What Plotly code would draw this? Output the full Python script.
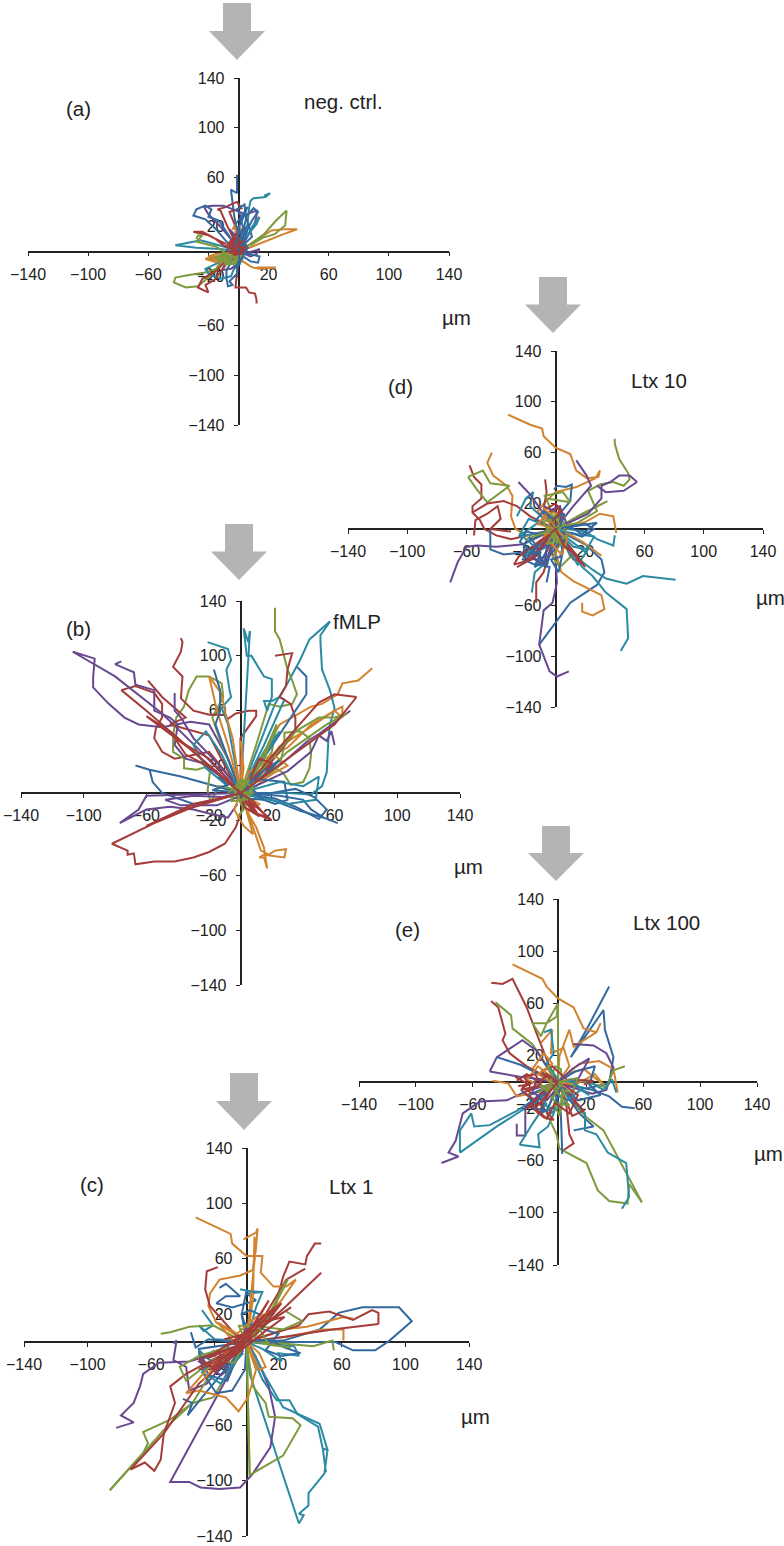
import plotly.graph_objects as go

W, H = 784, 1546
FONT = "Liberation Sans"
INK = "#222222"
TICK_VALUES = [-140, -100, -60, -20, 20, 60, 100, 140]
TICK_LABELS = ["\u2212140", "\u2212100", "\u221260", "\u221220", "20", "60", "100", "140"]
COLOURS = {"blue": "#33699f", "red": "#a53c3a", "green": "#7d9a3f",
           "purple": "#68498f", "teal": "#2b8ba3", "orange": "#d1832f"}

# ---- tracks in micrometres, panel (a) neg. ctrl.
A_BLUE = [
    [(0,0),(-1,15),(-3,30),(-5,47),(-5,50),(-1,47),(-1,55),(-1,62)],
    [(0,0),(-8,8),(-15,18),(-22,26),(-30,29),(-28,34),(-22,37),(-18,34),(-20,28),(-13,25),(-6,12),(0,0)],
    [(0,0),(4,8),(6,18),(9,25),(13,32),(10,35),(5,28),(7,20),(9,12),(3,5)],
    [(0,-2),(8,-2),(14,-4),(13,-9),(8,-8),(3,-4)],
    [(-3,-5),(-8,-15),(-8,-22),(-7,-28),(-4,-27),(-6,-24),(-1,-18),(0,-4)],
    [(0,0),(2,12),(-2,22),(3,30),(6,36),(2,24),(5,10),(1,2)],
    [(0,0),(3,6),(1,16),(5,20),(3,10),(6,3),(2,-6),(-3,-14),(1,-10),(0,0)],
    [(-2,4),(2,28),(-1,34),(4,38),(5,26),(1,8)],
]
A_RED = [
    [(0,0),(-4,12),(-8,22),(-12,33),(-14,34),(-8,36),(-5,38),(-1,40),(2,35),(-6,32),(-2,20),(0,4)],
    [(0,0),(-10,5),(-15,10),(-24,16),(-30,16),(-20,13),(-8,6)],
    [(0,-5),(-1,-15),(-2,-29),(5,-29),(7,-33),(11,-34),(12,-39),(12,-42)],
    [(-8,-5),(-14,-15),(-24,-22),(-27,-29),(-22,-32),(-20,-33),(-22,-27),(-16,-23),(-8,-10)],
    [(0,0),(-5,3),(-3,8),(0,10),(3,5),(6,3),(2,-2),(-3,-2),(-2,4),(-6,6),(-1,12),(2,3),(0,0)],
    [(-7,2),(-4,9),(2,8),(5,1),(-2,1),(1,7),(-6,5),(3,3),(-1,-1),(-5,1)],
    [(-8,4),(-2,14),(3,8),(-3,6),(4,2),(-2,-3),(-8,1)],
]
A_GREEN = [
    [(0,-2),(-10,-5),(-15,-14),(-22,-17),(-33,-19),(-42,-21),(-43,-25),(-35,-29),(-27,-28),(-22,-23),(-10,-10),(0,-2)],
    [(0,0),(8,6),(17,14),(25,25),(32,33),(31,21),(24,14),(16,11),(8,5)],
    [(-28,10),(-27,13),(-24,13),(-28,8),(-15,4),(-8,-2),(-14,-6),(-20,-5),(-10,-9),(-4,-8),(2,-8),(1,-2),(-4,-3)],
    [(-3,-3),(-10,-3),(-8,-8),(-3,-6),(-6,-10),(0,-9),(3,-3),(-2,-1)],
    [(-12,-2),(-6,-1),(-10,-6),(-14,-5),(-7,-10),(-2,-10),(-1,-5),(-6,-4),(1,-6),(-4,-8)],
    [(-16,-4),(-8,-3),(-12,-8),(-5,-5),(-9,-11),(-3,-7),(2,-5)],
]
A_PURPLE = [
    [(0,0),(-5,10),(-12,20),(-20,30),(-23,36),(-17,37),(-10,37),(-3,34),(5,30),(12,33),(12,28),(10,20),(4,8)],
    [(0,0),(6,-1),(12,1),(14,2),(12,-2),(8,-4),(2,-1)],
    [(-3,-3),(-8,-8),(-11,-15),(-5,-14),(-1,-10),(3,-5)],
    [(0,0),(-2,10),(-6,18),(-3,14),(-1,4)],
]
A_TEAL = [
    [(0,0),(-10,4),(-25,9),(-42,5),(-28,3),(-12,2),(0,0)],
    [(0,0),(3,10),(6,22),(7,35),(8,41),(10,43),(18,44),(21,47),(17,45)],
    [(-3,-2),(-8,-6),(-15,-10),(-22,-14),(-20,-18),(-12,-22),(-5,-20),(0,-5)],
    [(0,0),(5,12),(12,22),(14,28),(9,20),(3,6)],
]
A_ORANGE = [
    [(0,0),(8,6),(18,14),(22,17),(30,18),(39,18),(30,14),(15,7),(5,2)],
    [(0,-3),(3,-8),(8,-12),(10,-13),(14,-14),(25,-13),(12,-13)],
    [(-3,-1),(-15,-2),(-20,-4),(-14,-6),(-20,-6),(-10,-8),(0,-3)],
    [(0,2),(-2,14),(-2,22),(-4,18),(0,20),(2,18),(1,6)],
    [(-16,-3),(-22,-6),(-14,-9),(-18,-4),(-8,-5),(-12,-9),(-4,-4)],
]

# ---- panel (b) fMLP
B_BLUE = [
    [(-67,20),(-58,17),(-38,12),(-15,5),(0,0)],
    [(-58,17),(-56,8),(-50,0),(-40,-4),(-30,-8),(-15,-5),(0,0)],
    [(0,0),(20,-5),(38,-13),(53,-18),(62,-22),(53,-18),(45,-12),(40,-5),(25,-2),(0,0)],
    [(0,0),(22,-4),(35,-10),(50,-19),(55,-12),(47,-3),(35,3),(20,0),(0,0)],
    [(-17,90),(-13,75),(-13,60),(-16,50),(-8,25),(0,0)],
    [(36,92),(42,85),(42,72),(35,60),(20,35),(0,0)],
    [(0,0),(12,10),(28,8),(30,-5),(22,-8),(10,-3),(0,0)],
    [(0,0),(8,6),(18,16),(25,24),(12,14),(2,2)],
    [(-14,12),(-8,6),(-18,2),(-6,1),(4,-4),(15,-5),(8,2)],
]
B_RED = [
    [(0,0),(-30,30),(-60,60),(-76,75),(-67,78),(-55,73),(-50,65),(-50,55),(-54,47),(-55,40),(-50,30),(-42,25),(-20,30),(0,2)],
    [(-59,82),(-50,70),(-40,60),(-35,55),(-45,50),(-30,45),(-20,42),(-10,20),(0,0)],
    [(-38,113),(-37,110),(-38,103),(-43,92),(-37,85),(-38,69),(-30,60),(-20,57),(-10,57),(-8,54),(-3,58),(5,60),(10,60),(10,56),(0,40),(0,0)],
    [(0,0),(-30,-10),(-55,-22),(-82,-37),(-72,-42),(-72,-45),(-68,-44),(-67,-52),(-55,-50),(-42,-50),(-30,-47),(-20,-43),(-10,-37),(-3,-25),(0,-15),(4,-3)],
    [(22,100),(33,102),(30,90),(29,78),(25,70),(32,65),(35,55),(35,45),(25,30),(10,10),(0,0)],
    [(74,70),(60,72),(50,66),(30,40),(0,0)],
    [(74,70),(60,50),(30,25),(0,0)],
    [(0,0),(10,-15),(20,-20),(12,-12),(5,-5),(12,-17),(2,-10),(0,0)],
    [(0,0),(-20,25),(-42,40),(-35,28),(-18,18),(-5,5)],
    [(0,0),(15,12),(20,22),(12,25),(6,10)],
    [(0,0),(-45,45),(-60,56),(-32,32),(-4,4)],
    [(0,0),(-35,-12),(-60,-24),(-30,-8),(-2,-1)],
    [(0,0),(8,-6),(14,-14),(18,-18),(8,-14),(3,-6)],
]
B_GREEN = [
    [(-4,3),(-14,5),(-19,-7),(-21,2),(-19,20),(-28,17),(-36,18),(-36,25),(-43,30),(-43,42),(-41,55),(-36,63),(-33,75),(-28,85),(-20,85),(-12,80),(-11,70),(-18,55),(-12,35),(0,3)],
    [(22,135),(22,118),(25,112),(28,100),(30,90),(33,82),(36,72),(33,65),(25,63),(18,65),(10,35),(0,0)],
    [(0,0),(10,15),(23,50),(20,30),(8,8),(0,0)],
    [(0,0),(10,5),(25,20),(28,35),(28,44),(38,45),(44,40),(45,28),(44,18),(40,8),(32,6),(27,15),(18,20),(5,5)],
    [(0,0),(20,25),(35,45),(50,55),(60,55),(68,58),(55,50),(30,30),(5,3)],
    [(0,0),(6,6),(-4,3),(-6,-3),(3,-5),(7,3),(2,9),(-3,0),(2,-12),(-2,-18),(4,-8),(0,0)],
    [(-5,5),(5,-2),(8,8),(-2,8),(2,-3),(10,1),(0,0)],
    [(0,0),(12,22),(22,46),(14,22),(4,8)],
    [(-8,0),(-2,6),(6,-4),(-6,-6),(0,10),(8,4),(0,-6),(-4,4)],
]
B_PURPLE = [
    [(0,0),(-25,30),(-50,58),(-80,85),(-107,103),(-93,98),(-94,84),(-94,77),(-84,65),(-74,55),(-65,50),(-50,48),(-32,52),(-20,50),(-8,25),(0,3)],
    [(-76,96),(-80,94),(-72,90),(-68,88),(-67,79),(-55,75),(-55,60),(-45,55),(-40,50),(-42,35),(-35,25),(-25,22),(0,2)],
    [(-42,73),(-42,60),(-38,55),(-30,40),(-15,22),(0,2)],
    [(70,60),(50,43),(43,38),(25,20),(0,0)],
    [(60,35),(58,45),(55,38),(50,42),(45,30),(30,16),(0,0)],
    [(0,0),(-30,-1),(-60,-2),(-65,-12),(-77,-22),(-60,-12),(-45,-10),(-30,-12),(-20,-15),(-8,-18),(-2,-8)],
    [(0,0),(-12,-3),(-30,-2),(-48,-5),(-38,-9),(-15,-9),(0,-2)],
]
B_TEAL = [
    [(57,125),(50,118),(44,112),(38,97),(30,80),(22,65),(10,30),(0,0)],
    [(57,125),(51,115),(51,110),(52,90),(57,75),(60,62),(57,50),(56,38),(55,15),(52,5),(45,-1),(30,0),(0,0)],
    [(-21,110),(-8,105),(-6,97),(-9,90),(-7,75),(-6,70),(-12,62),(-8,50),(0,0)],
    [(6,118),(5,110),(2,120),(4,100),(7,100),(15,85),(20,83),(20,70),(17,60),(15,67),(20,67),(25,70),(28,68),(15,35),(0,0)],
    [(6,118),(3,60),(1,20),(0,0)],
    [(0,0),(-12,28),(-22,45),(-30,35),(-22,18),(-8,5)],
    [(0,0),(25,8),(40,5),(50,12),(48,-5),(30,-8),(0,0)],
    [(0,0),(12,20),(25,45),(15,30),(3,5)],
]
B_ORANGE = [
    [(84,91),(75,82),(65,80),(62,72),(52,65),(45,63),(25,50),(0,0)],
    [(0,-5),(10,-25),(15,-40),(17,-55),(15,-47),(12,-47),(15,-45),(28,-47),(29,-41),(22,-42),(18,-45),(13,-42),(8,-25),(0,0)],
    [(-20,85),(-12,72),(-10,60),(-5,40),(0,0),(-8,35),(-15,60),(-20,85)],
    [(0,0),(15,25),(30,33),(45,50),(60,60),(65,63),(65,55),(60,60),(42,46),(25,34),(8,8)],
    [(0,0),(5,15),(22,27),(30,20),(22,15),(12,8)],
    [(0,0),(1,35),(0,38),(2,18),(0,0)],
    [(0,0),(-4,-12),(2,-24),(8,-30),(4,-14),(12,-8),(0,0)],
]

# ---- panel (c) Ltx 1
C_BLUE = [
    [(-17,39),(-13,42),(-4,33),(-13,33),(-19,28),(-9,25),(6,30),(0,35),(10,36),(0,37),(-3,20),(0,0)],
    [(0,0),(23,1),(46,9),(58,21),(73,25),(96,25),(104,15),(90,1),(81,-6),(67,-6),(56,0),(29,0),(0,0)],
    [(-30,-6),(-27,-23),(-19,-37),(-9,-35),(-1,-20),(0,0)],
    [(-40,-41),(-34,-44),(-37,-53),(-28,-40),(-10,-15),(0,0)],
    [(-1,12),(-3,20),(2,23),(8,20),(5,12),(-2,14),(2,4)],
    [(0,0),(-30,-5),(-28,-14),(-18,-20),(-8,-14),(0,0)],
    [(-35,7),(-32,-4),(-24,2),(-10,0),(-20,-10),(-28,-12),(-24,-24),(-12,-28),(-6,-10)],
    [(0,0),(14,2),(24,-4),(34,-8),(22,-10),(12,-6),(20,6),(8,10)],
]
C_RED = [
    [(47,71),(43,71),(38,62),(37,56),(27,58),(23,47),(17,21),(0,0)],
    [(37,53),(25,45),(12,20),(0,0)],
    [(47,50),(25,26),(0,0)],
    [(-18,54),(-25,51),(-26,38),(-23,26),(-9,8),(0,0)],
    [(83,13),(83,21),(79,23),(67,16),(52,22),(39,20),(33,12),(0,0)],
    [(83,13),(54,9),(25,4),(0,0)],
    [(-73,-92),(-64,-87),(-58,-93),(-54,-85),(-52,-66),(-45,-44),(-48,-32),(-38,-23),(-20,-12),(0,0)],
    [(-73,-92),(-52,-66),(-30,-30),(0,0)],
    [(0,0),(-22,-18),(-30,-12),(-15,-6),(12,20),(22,28),(10,10),(0,0)],
    [(0,0),(-25,-12),(-10,0),(15,15),(28,25),(5,8)],
    [(-26,-16),(-10,-8),(6,10),(18,24),(10,18),(-6,-2),(-22,-20),(-14,-14),(4,4)],
    [(-20,-22),(-8,-10),(12,8),(24,18),(8,14),(-4,-6),(-30,-20)],
    [(-14,2),(0,6),(10,22),(14,30),(4,12),(-8,-2)],
]
C_GREEN = [
    [(-86,-107),(-71,-88),(-50,-61),(-34,-44),(-21,-40),(-8,-15),(0,0)],
    [(-86,-107),(-65,-80),(-62,-73),(-65,-65),(-48,-56),(-34,-44),(-21,-20),(-2,-3)],
    [(0,0),(2,-96),(23,-82),(34,-60),(29,-55),(14,-54),(12,-44),(4,-32),(0,0)],
    [(0,0),(1,-50),(2,-96),(1,-30),(0,0)],
    [(55,-6),(54,1),(42,-3),(23,-1),(0,0)],
    [(-54,6),(-48,7),(-36,11),(-21,12),(-5,2)],
    [(25,22),(35,15),(23,9),(10,11),(0,2)],
    [(0,0),(12,15),(24,42),(26,45),(15,20),(5,3)],
    [(0,0),(-8,-15),(-20,-12),(-38,-28),(-42,-18),(-30,-10),(-12,-4)],
    [(0,0),(-5,12),(8,10),(14,-2),(28,-4),(10,-1)],
]
C_PURPLE = [
    [(-82,-62),(-71,-58),(-79,-53),(-71,-44),(-67,-32),(-65,-23),(-55,-15),(-36,-14),(-19,-8),(-1,-1)],
    [(-46,-1),(-44,1),(-46,-13),(-38,-18),(-36,-35),(-25,-30),(-12,-12),(0,0)],
    [(0,0),(-19,-40),(-48,-101),(-36,-101),(-29,-105),(-17,-106),(-4,-105),(4,-95),(15,-76),(18,-54),(14,-32),(6,-11),(1,-1)],
    [(-30,-8),(-24,-18),(-12,-18),(-18,-6),(-5,-3)],
    [(-20,-6),(-30,-14),(-16,-24),(-8,-16),(-2,-6)],
]
C_TEAL = [
    [(33,-131),(36,-125),(33,-124),(39,-118),(39,-109),(49,-95),(51,-78),(48,-77),(50,-94),(48,-77),(45,-61),(32,-52),(27,-42),(19,-42),(10,-27),(0,0)],
    [(33,-131),(2,-23),(0,0)],
    [(51,-78),(46,-59),(23,-47),(12,-25),(3,-5)],
    [(-28,23),(-21,12),(-27,8),(-30,12),(-20,2),(-5,1)],
    [(0,0),(30,-3),(33,-10),(20,-8),(22,-14),(10,-5),(0,0)],
    [(-4,38),(5,36),(10,36),(6,25),(1,5)],
    [(-30,-6),(-22,-14),(-28,-22),(-16,-30),(-10,-18),(-2,-8)],
]
C_ORANGE = [
    [(-32,90),(-10,78),(-9,71),(0,62),(10,62),(9,50),(17,40),(25,40),(31,45),(22,30),(10,15),(0,0)],
    [(-2,74),(6,79),(7,82),(6,69),(4,52),(-4,48),(-17,45),(-23,35),(-24,26),(-19,14),(-1,1)],
    [(0,0),(6,70),(5,76),(4,30),(0,0)],
    [(67,17),(61,18),(38,11),(23,9),(0,0)],
    [(61,1),(61,9),(48,9),(27,4),(0,0)],
    [(-38,-37),(-30,-35),(-13,-40),(-5,-50),(1,-40),(6,-20),(0,0)],
    [(0,0),(8,-20),(12,-18),(8,-8),(0,0)],
    [(-38,-37),(-25,-20),(-10,-8),(0,0)],
    [(-28,-28),(-14,-10),(2,6),(16,22),(6,18),(-6,6),(-18,14),(-8,0)],
]

# ---- panel (d) Ltx 10
D_BLUE = [
    [(-11,-91),(1,-72),(10,-58),(28,-44),(33,-34),(31,-24),(20,-12),(0,0)],
    [(-44,0),(-44,-16),(-35,-20),(-17,-18),(-8,-10),(0,0)],
    [(-1,31),(1,34),(7,33),(11,35),(10,22),(0,8)],
    [(-6,-42),(-4,-30),(-12,-28),(-7,-20),(-2,-6)],
    [(0,0),(-20,-10),(-22,-20),(-10,-26),(-5,-15),(0,0)],
    [(0,0),(28,5),(18,-4),(8,3),(0,0)],
    [(0,0),(-12,-4),(-20,-2),(-24,-10),(-18,-16),(-22,-24),(-14,-28),(-10,-22),(-6,-30),(-4,-20),(0,-10)],
    [(0,0),(6,-10),(3,-22),(-3,-24),(2,-34),(5,-18),(2,-4)],
    [(0,0),(10,2),(20,4),(26,0),(18,-6),(10,-3)],
    [(-14,6),(-8,14),(-2,8),(6,12),(3,2)],
    [(-18,-6),(-12,-14),(-18,-20),(-10,-18),(-14,-30),(-6,-24),(-2,-14)],
]
D_RED = [
    [(-58,50),(-55,41),(-50,35),(-50,24),(-56,18),(-56,13),(-51,7),(-48,0),(-40,-5),(-30,-8),(0,0)],
    [(-55,-5),(-54,7),(-46,12),(-39,18),(-37,8),(-44,0),(-30,-2)],
    [(-56,13),(-46,20),(-35,22),(-26,18),(-17,10),(0,0)],
    [(-7,39),(-6,29),(-8,16),(0,0)],
    [(-13,-58),(-13,-42),(-8,-34),(-4,-18),(0,0)],
    [(0,0),(-25,-22),(-28,-28),(-16,-24),(-5,-8)],
    [(0,0),(12,-24),(18,-26),(8,-12),(0,0)],
    [(-4,14),(2,16),(4,6),(-3,4),(0,0)],
    [(0,0),(-14,-14),(-20,-26),(-26,-30),(-14,-22),(-4,-4)],
    [(0,0),(6,-14),(14,-20),(20,-30),(8,-14)],
    [(-6,16),(0,20),(4,14),(-2,6)],
]
D_GREEN = [
    [(40,71),(40,67),(43,55),(49,44),(50,39),(46,34),(39,37),(30,35),(22,30),(28,14),(15,5),(0,0)],
    [(-59,41),(-49,46),(-44,36),(-31,34),(-46,21),(-53,31),(-59,41)],
    [(35,22),(16,10),(3,2),(18,12),(35,22)],
    [(-8,26),(5,29),(10,21),(-6,24),(-2,10),(0,0)],
    [(0,0),(5,-8),(-2,-22),(3,-30),(10,-22),(4,-5),(0,0)],
    [(-3,4),(-2,-8),(2,-4),(3,8),(0,12),(-3,0),(2,-14),(0,0)],
    [(-20,-8),(-8,-3),(0,0),(14,4),(5,3),(0,0)],
    [(0,0),(-5,12),(5,6),(8,-6),(-6,-12),(0,0)],
    [(-4,-4),(-8,6),(0,8),(4,2),(-2,-6),(6,-14),(1,-8)],
]
D_PURPLE = [
    [(-71,-42),(-66,-26),(-60,-14),(-53,-13),(-40,-14),(-22,-12),(0,0)],
    [(9,-112),(1,-116),(-4,-112),(-8,-100),(-11,-91),(-8,-64),(-2,-58),(1,-42),(0,-25),(0,0)],
    [(14,54),(21,42),(24,34),(12,18),(0,0)],
    [(55,37),(50,42),(43,42),(37,37),(31,34),(31,24),(22,12),(0,0)],
    [(55,37),(46,30),(34,29),(28,34)],
    [(-25,37),(-17,27),(-8,12),(0,0)],
    [(-4,14),(5,12),(8,2),(2,-12),(-7,-26),(-5,-8),(0,0)],
    [(0,0),(-10,-14),(-16,-22),(-8,-28),(-12,-18),(-2,-8)],
    [(-8,18),(-3,15),(3,18),(5,10),(0,2)],
]
D_TEAL = [
    [(81,-40),(59,-37),(48,-43),(34,-39),(25,-32),(16,-24),(5,-10),(0,0)],
    [(44,-96),(49,-86),(48,-63),(34,-50),(25,-37),(18,-30),(0,0)],
    [(40,-5),(39,-13),(28,-8),(20,-2),(8,0),(0,0)],
    [(-16,-50),(-14,-34),(-8,-28),(-5,-10),(0,0)],
    [(-26,10),(-20,24),(-15,29),(-17,18),(-8,8),(-20,-2),(-25,-6),(-10,-3),(0,0)],
    [(0,0),(20,-18),(26,-6),(14,-4),(2,-1)],
    [(0,0),(-18,8),(-24,-4),(-14,-14),(-20,-22),(-6,-14)],
    [(0,0),(12,-14),(22,-16),(15,-28),(6,-12)],
]
D_ORANGE = [
    [(-32,90),(-17,82),(-9,79),(-8,73),(0,64),(10,59),(14,46),(21,40),(29,41),(30,46),(27,40),(14,33),(0,29),(-8,20),(-12,14),(0,0)],
    [(-43,60),(-46,52),(-42,42),(-33,34),(-29,26),(-30,10),(-27,0),(-19,-5),(0,0)],
    [(18,-58),(18,-65),(25,-68),(33,-63),(31,-52),(12,-41),(4,-34),(0,-18),(0,0)],
    [(41,-3),(39,10),(30,12),(21,6),(5,0)],
    [(31,-21),(18,-10),(6,-2)],
    [(0,0),(-6,8),(-8,18),(-2,6),(-8,-6),(0,0)],
    [(0,0),(-12,4),(-4,14),(6,10),(0,0)],
    [(0,0),(8,-8),(4,-20),(-4,-10)],
]

# ---- panel (e) Ltx 100
E_BLUE = [
    [(36,73),(20,40),(9,19),(14,27),(32,55),(33,40),(39,19),(36,-1),(20,-5),(0,0)],
    [(54,-20),(45,-19),(36,-11),(24,-6),(1,-1)],
    [(-43,19),(-26,13),(-8,3)],
    [(3,-55),(2,-24),(0,-14)],
    [(11,-37),(25,-34),(15,-24),(6,-10)],
    [(0,0),(-20,-10),(-18,-20),(-8,-22),(-2,-8)],
    [(0,0),(12,8),(26,12),(22,-2),(30,-10),(14,-14),(4,-4)],
    [(-26,-6),(-16,-16),(-8,-8),(-12,-24),(-2,-18),(2,-4)],
]
E_RED = [
    [(-47,76),(-39,75),(-32,79),(-22,57),(-15,37),(-6,12),(0,0)],
    [(-47,62),(-42,57),(-37,37),(-39,32),(-34,22),(-22,12),(-3,1)],
    [(-29,1),(-22,6),(-15,1),(-25,-4),(-18,-9),(-6,-3)],
    [(4,-52),(11,-47),(8,-40),(6,-19),(2,-5)],
    [(-15,-14),(-3,-29),(-10,-27),(-20,-18),(-10,-8),(0,0)],
    [(0,0),(18,-22),(10,-26),(4,-10)],
    [(0,0),(-12,8),(-4,12),(6,2),(25,1),(18,-2)],
    [(-28,-3),(-20,-2),(-24,4),(-16,6),(-12,-2),(-24,-8),(-16,-14),(-22,-20),(-10,-16),(-4,-4)],
    [(-30,4),(-22,-1),(-26,-6),(-14,-3),(-8,6),(0,0)],
    [(0,0),(-16,-20),(-8,-28),(-2,-16),(8,-24),(14,-10),(4,-2)],
]
E_GREEN = [
    [(-44,61),(-33,51),(-32,41),(-18,29),(-4,6)],
    [(0,60),(-8,45),(-18,45),(-12,35),(-8,45),(-1,50),(0,60),(0,0)],
    [(59,-92),(50,-78),(49,-93),(36,-91),(28,-83),(20,-62),(1,-51),(-1,-40),(-8,-24),(-1,-1)],
    [(59,-92),(32,-37),(20,-27),(1,-4)],
    [(47,12),(39,9),(34,-4),(15,1),(1,-1)],
    [(-8,-8),(-2,12),(2,10),(3,-2),(-4,-12),(2,-22),(4,-8),(0,0)],
    [(-14,-8),(-6,-3),(10,-8),(14,3),(0,0)],
    [(-8,12),(-4,6),(-6,-8),(-14,-2),(-3,-5),(8,-18),(-3,-16),(1,-26),(3,-8)],
]
E_PURPLE = [
    [(-82,-62),(-70,-57),(-77,-54),(-72,-45),(-67,-24),(-55,-15),(-36,-14),(-22,-7),(-3,-1)],
    [(-48,8),(-43,19),(-25,32),(-15,24),(-3,3)],
    [(-48,8),(-27,4),(-3,1)],
    [(-29,-32),(-29,-41),(-23,-41),(-23,-19),(-5,-2)],
    [(11,29),(25,28),(34,22),(39,11),(34,-6),(24,-9),(1,-1)],
    [(0,0),(-15,2),(-18,-8),(-8,-14),(0,-4)],
    [(0,0),(10,10),(22,18),(14,2),(8,-14),(-2,-10)],
]
E_TEAL = [
    [(-69,-54),(-69,-37),(-61,-24),(-59,-34),(-48,-33),(-29,-22),(-13,-11),(-1,-1)],
    [(-69,-54),(-43,-34),(-20,-18)],
    [(-27,-48),(-13,-50),(-14,-40),(-7,-34),(-3,-24),(0,-1)],
    [(-27,-48),(-18,-32),(-8,-16)],
    [(45,-97),(50,-88),(48,-62),(35,-54),(27,-40),(19,-37),(19,-24),(1,-4)],
    [(41,-8),(38,2),(32,-6),(21,1),(3,0)],
    [(-10,38),(-5,40),(-3,22),(-8,14),(0,2)],
    [(-12,-10),(-5,-24),(2,-18),(16,-6),(22,-10),(8,2)],
]
E_ORANGE = [
    [(-32,90),(-11,79),(-8,73),(0,64),(11,57),(18,41),(27,38),(30,45),(27,38),(11,27),(8,40),(1,20),(0,0)],
    [(-46,1),(-35,-1),(-29,-11),(-15,-8),(-1,-1)],
    [(42,-8),(39,10),(29,16),(15,14),(1,1)],
    [(-12,30),(-4,40),(-5,22),(4,26),(8,12),(0,0)],
    [(0,0),(-14,12),(-22,2),(-10,-4),(0,0)],
    [(0,0),(12,-2),(26,6),(32,-2),(18,10),(6,6)],
    [(-18,10),(-10,22),(-4,14),(-14,6),(-2,-2)],
]

# ---- panel geometry: left, right, top, bottom of each cross of axes
PANEL_LEFT = [28, 21, 24, 348, 359]
PANEL_RIGHT = [449, 460, 469, 763, 757]
PANEL_TOP = [78, 601, 1148, 351, 899]
PANEL_BOTTOM = [425, 985, 1536, 707, 1265]
PANEL_TRACKS = [
    {"blue": A_BLUE, "red": A_RED, "purple": A_PURPLE, "teal": A_TEAL, "orange": A_ORANGE, "green": A_GREEN},
    {"blue": B_BLUE, "red": B_RED, "purple": B_PURPLE, "teal": B_TEAL, "orange": B_ORANGE, "green": B_GREEN},
    {"blue": C_BLUE, "red": C_RED, "purple": C_PURPLE, "teal": C_TEAL, "orange": C_ORANGE, "green": C_GREEN},
    {"blue": D_BLUE, "red": D_RED, "purple": D_PURPLE, "teal": D_TEAL, "orange": D_ORANGE, "green": D_GREEN},
    {"blue": E_BLUE, "red": E_RED, "purple": E_PURPLE, "teal": E_TEAL, "orange": E_ORANGE, "green": E_GREEN},
]
PANEL_TAGS = [("(a)", 78, 108), ("(b)", 78, 628), ("(c)", 92, 1184), ("(d)", 400, 386), ("(e)", 407, 929)]
PANEL_TITLES = [("neg. ctrl.", 343, 102), ("fMLP", 357, 621), ("Ltx 1", 351, 1186), ("Ltx 10", 659, 381), ("Ltx 100", 666, 923)]
UNIT_LABELS = [(456, 318), (468, 866), (476, 1416), (770, 597), (768, 1153)]
# arrows: centre x, top y, tip y
ARROWS = [(237, 3, 60), (239, 524, 580), (244, 1073, 1130), (553, 277, 333), (556, 826, 881)]


def px(x):
    return x / W


def py(y):
    return 1 - y / H


fig = go.Figure()
layout = dict(
    width=W, height=H, margin=dict(l=0, r=0, t=0, b=0, pad=0, autoexpand=False),
    paper_bgcolor="white", plot_bgcolor="rgba(0,0,0,0)", showlegend=False,
    font=dict(family=FONT, size=16, color=INK), annotations=[], shapes=[],
)

for i in range(5):
    suffix = "" if i == 0 else str(i + 1)
    common = dict(
        range=[-140, 140], tickmode="array", tickvals=TICK_VALUES, ticktext=TICK_LABELS,
        showgrid=False, zeroline=False, showline=True, linecolor=INK, linewidth=1.7,
        ticks="outside", ticklen=4, tickwidth=1.3, tickcolor=INK, anchor="free",
        tickfont=dict(family=FONT, size=16, color=INK), layer="below traces", fixedrange=True,
    )
    mid_row = (PANEL_TOP[i] + PANEL_BOTTOM[i]) / 2
    mid_col = (PANEL_LEFT[i] + PANEL_RIGHT[i]) / 2
    layout["xaxis" + suffix] = dict(common, domain=[px(PANEL_LEFT[i]), px(PANEL_RIGHT[i])],
                                    position=py(mid_row), ticklabelstandoff=4)
    layout["yaxis" + suffix] = dict(common, domain=[py(PANEL_BOTTOM[i]), py(PANEL_TOP[i])],
                                    position=px(mid_col), ticklabelstandoff=6)
    tracks = PANEL_TRACKS[i]
    depth = max(len(v) for v in tracks.values())
    for k in range(depth):
        for colour, group in tracks.items():
            if k < len(group):
                fig.add_trace(go.Scatter(
                    x=[p[0] for p in group[k]], y=[p[1] for p in group[k]],
                    mode="lines", line=dict(color=COLOURS[colour], width=2),
                    xaxis="x" + suffix, yaxis="y" + suffix, hoverinfo="skip",
                ))

for text, x, y in PANEL_TAGS + PANEL_TITLES + [("\u00b5m", a, b) for a, b in UNIT_LABELS]:
    layout["annotations"].append(dict(
        text=text, x=px(x), y=py(y), xref="paper", yref="paper", showarrow=False,
        xanchor="center", yanchor="middle", font=dict(family=FONT, size=20.5, color=INK),
    ))

for cx, top, tip in ARROWS:
    neck = top + (tip - top) * 0.49
    corners = [(cx - 14, top), (cx + 14, top), (cx + 14, neck), (cx + 28, neck),
               (cx, tip), (cx - 28, neck), (cx - 14, neck)]
    path = "M " + " L ".join(f"{px(a):.5f} {py(b):.5f}" for a, b in corners) + " Z"
    layout["shapes"].append(dict(type="path", path=path, xref="paper", yref="paper",
                                 fillcolor="#b4b4b4", line=dict(width=0)))

fig.update_layout(**layout)
fig.write_html("out.html", config={"displayModeBar": False},
               post_script="document.body.style.margin='0';document.body.style.overflow='hidden';")
